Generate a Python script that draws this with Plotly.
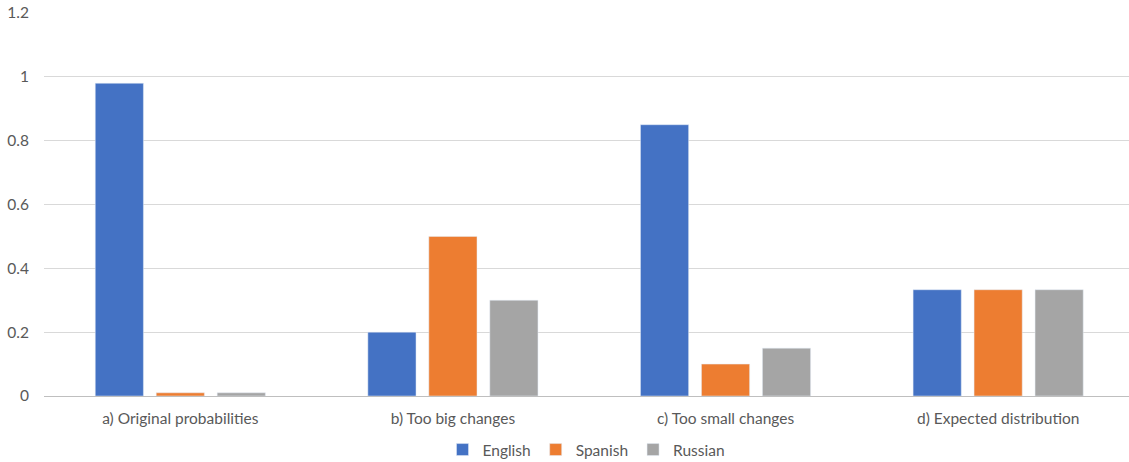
import plotly.graph_objects as go

categories = ["a) Original probabilities", "b) Too big changes", "c) Too small changes", "d) Expected distribution"]
english = [0.98, 0.2, 0.85, 0.333]
spanish = [0.01, 0.5, 0.1, 0.333]
russian = [0.01, 0.3, 0.15, 0.333]
y_ticks = [0, 0.2, 0.4, 0.6, 0.8, 1, 1.2]
y_tick_labels = ["0", "0.2", "0.4", "0.6", "0.8", "1", "1.2"]

font_family = "Lato, 'Open Sans', sans-serif"
text_color = "#595959"

fig = go.Figure()
fig.add_trace(go.Bar(name="English", x=categories, y=english, marker_color="#4472C4"))
fig.add_trace(go.Bar(name="Spanish", x=categories, y=spanish, marker_color="#ED7D31"))
fig.add_trace(go.Bar(name="Russian", x=categories, y=russian, marker_color="#A5A5A5"))

fig.update_layout(
    width=1129, height=462,
    margin=dict(l=44, r=0, t=13, b=66, autoexpand=False),
    plot_bgcolor="white", paper_bgcolor="white",
    barmode="group", bargap=0.329, bargroupgap=0.21,
    font=dict(family=font_family, size=15.5, color=text_color),
    legend=dict(orientation="h", x=0.5, xanchor="center", yref="container", y=0.026, yanchor="middle",
                font=dict(size=15.5, color=text_color), itemwidth=30, traceorder="normal"),
    showlegend=True,
)
fig.update_xaxes(range=[-0.5, 3.48], showgrid=False, showline=True, linecolor="#bfbfbf", linewidth=1,
                 ticks="", tickfont=dict(size=15.5, color=text_color), ticklabelstandoff=8)
fig.update_yaxes(range=[0, 1.2], tickvals=y_ticks, ticktext=y_tick_labels,
                 showgrid=True, gridcolor="#d9d9d9", gridwidth=1, zeroline=False,
                 showline=False, ticks="", tickfont=dict(size=15.5, color=text_color),
                 ticklabelstandoff=14)

fig.write_html("out.html")
